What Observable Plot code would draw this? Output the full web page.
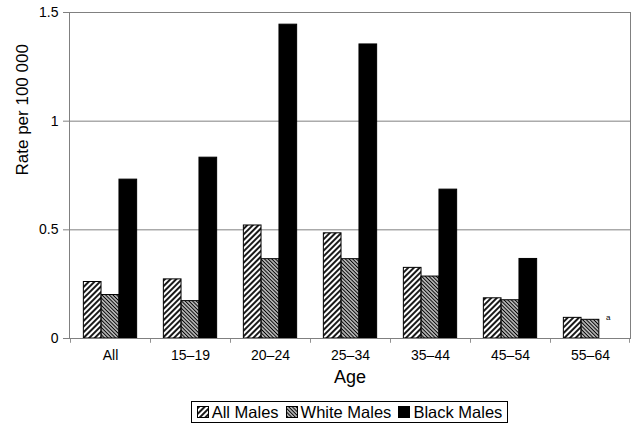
<!DOCTYPE html>
<html>
<head>
<meta charset="utf-8">
<script src="https://cdn.jsdelivr.net/npm/d3@7"></script>
<script src="https://cdn.jsdelivr.net/npm/@observablehq/plot@0.6"></script>
<style>
  body { margin: 0; background: #fff; font-family: "Liberation Sans", Arial, sans-serif; }
  #wrap { width: 640px; }
  #legend-row { width: 640px; box-sizing: border-box; padding-left: 69px; padding-right: 10px; text-align: center; margin-top: 3px; }
  #legend { display: inline-flex; align-items: center; border: 1px solid #000; padding: 1px 5px 1px 5px; font-size: 16.5px; color: #000; line-height: 18px; }
  .item { display: inline-flex; align-items: center; margin-right: 7px; }
  .item:last-child { margin-right: 0; }
  .item svg { margin-right: 3px; }
</style>
</head>
<body>
<div id="wrap"></div>
<div id="legend-row"><div id="legend"></div></div>
<script>
// ---- data ----
const ages = ["All", "15–19", "20–24", "25–34", "35–44", "45–54", "55–64"];
const seriesNames = ["All Males", "White Males", "Black Males"];
const allMales   = [0.26, 0.272, 0.52, 0.484, 0.325, 0.185, 0.095];
const whiteMales = [0.20, 0.172, 0.365, 0.365, 0.285, 0.176, 0.086];
const blackMales = [0.731, 0.832, 1.444, 1.353, 0.685, 0.366, null];
const yTicks = [0, 0.5, 1, 1.5];
const yLabel = "Rate per 100 000";
const xLabel = "Age";
const notes = [{age: "55–64", series: "Black Males", text: "a"}];

// ---- layout ----
const W = 640, H = 398, mL = 69, mR = 10, mT = 12, mB = 60;
const bw = (W - mL - mR) / ages.length;
const sub = d3.scaleBand().domain(seriesNames).range([0, bw]).paddingInner(0).paddingOuter(0.75);

const valuesBySeries = {"All Males": allMales, "White Males": whiteMales, "Black Males": blackMales};
const rows = seriesNames.flatMap(s => ages.map((a, i) => ({age: a, series: s, value: valuesBySeries[s][i]})))
  .filter(d => d.value != null);

const fills = {"All Males": "url(#hatchAll)", "White Males": "url(#hatchWhite)", "Black Males": "#000"};

const barMarks = seriesNames.map(s => Plot.barY(rows.filter(d => d.series === s), {
  x: "age", y: "value", fill: fills[s], stroke: "#000", strokeWidth: 1,
  insetLeft: sub(s), insetRight: bw - sub(s) - sub.bandwidth()
}));

const noteRows = notes.map(n => ({...n, value: allMales[ages.indexOf(n.age)]}));

const svg = Plot.plot({
  width: W, height: H,
  marginLeft: mL, marginRight: mR, marginTop: mT, marginBottom: mB,
  style: {fontFamily: "'Liberation Sans', Arial, sans-serif", color: "#000", background: "#fff", overflow: "visible"},
  x: {domain: ages, padding: 0, label: null},
  y: {domain: [0, 1.5], label: null},
  marks: [
    Plot.ruleY(yTicks.filter(d => d > 0), {stroke: "#808080", strokeWidth: 1}),
    ...barMarks,
    Plot.frame({stroke: "#808080", strokeWidth: 1}),
    // boundary ticks under the category axis
    Plot.barY(ages, {x: d => d, y1: 0, y2: -0.022, fill: "#808080", insetRight: bw - 1}),
    Plot.barY([ages[ages.length - 1]], {x: d => d, y1: 0, y2: -0.022, fill: "#808080", insetLeft: bw - 1}),
    Plot.axisY({ticks: yTicks, tickFormat: d => String(d), tickSize: 6, tickPadding: 5, fontSize: 14, stroke: "#808080", label: null}),
    Plot.axisX({tickSize: 0, tickPadding: 12, fontSize: 14, label: null}),
    Plot.text([yLabel], {text: d => d, frameAnchor: "left", rotate: -90, dx: -47, fontSize: 17}),
    Plot.text([xLabel], {text: d => d, frameAnchor: "bottom", dy: 44, fontSize: 18}),
    Plot.text(noteRows, {x: "age", y: "value", text: "text", fontSize: 8, dx: sub("Black Males") + sub.bandwidth() / 2 - bw / 2})
  ]
});

const ns = "http://www.w3.org/2000/svg";
const tmp = document.createElementNS(ns, "svg");
tmp.innerHTML = `<defs>
  <pattern id="hatchAll" width="4" height="4" patternUnits="userSpaceOnUse" patternTransform="rotate(45)">
    <rect width="4" height="4" fill="#fff"/>
    <line x1="2" y1="0" x2="2" y2="4" stroke="#000" stroke-width="1.8"/>
  </pattern>
  <pattern id="hatchWhite" width="2.6" height="4" patternUnits="userSpaceOnUse" patternTransform="rotate(-45)">
    <rect width="2.6" height="4" fill="#fff"/>
    <line x1="1.3" y1="0" x2="1.3" y2="4" stroke="#000" stroke-width="1.4"/>
  </pattern>
</defs>`;
svg.insertBefore(tmp.firstElementChild, svg.firstChild);
document.getElementById("wrap").appendChild(svg);

// legend (HTML below the SVG)
const legend = document.getElementById("legend");
seriesNames.forEach(s => {
  const item = document.createElement("span");
  item.className = "item";
  item.innerHTML = `<svg width="12" height="12"><rect x="0.5" y="0.5" width="11" height="11" fill="${fills[s]}" stroke="#000" stroke-width="1"/></svg><span>${s}</span>`;
  legend.appendChild(item);
});
</script>
</body>
</html>
